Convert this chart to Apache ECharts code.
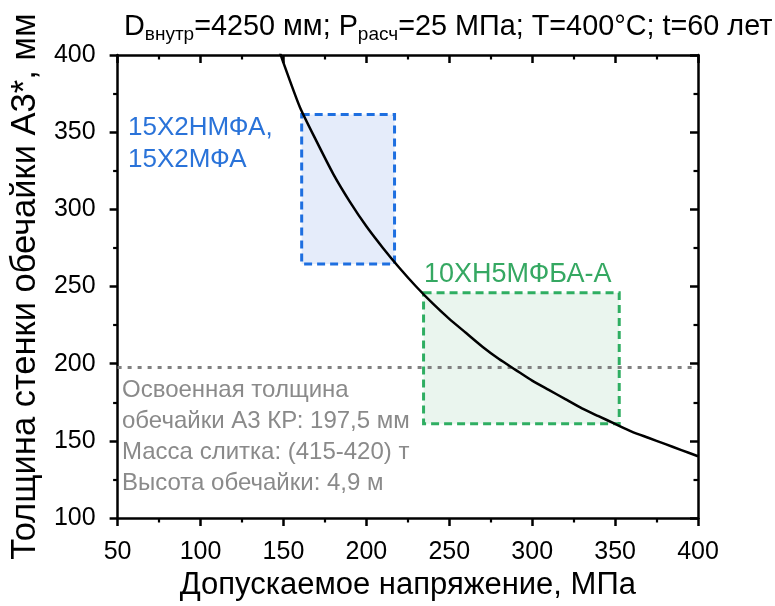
<!DOCTYPE html>
<html><head><meta charset="utf-8">
<script src="https://cdn.jsdelivr.net/npm/echarts@6/dist/echarts.min.js"></script>
<style>html,body{margin:0;padding:0;background:#fff}#c{width:775px;height:606px}</style>
</head><body><div id="c"></div>
<script>
// Curve: wall thickness (mm) vs allowable stress (MPa)
const stress    = [140, 150, 160, 170, 180, 190, 200, 210, 220, 230, 240, 250, 260, 270, 280, 290, 300, 310, 320, 330, 340, 350, 360, 370, 380, 390, 400];
const thickness = [426, 395, 366, 344, 323, 305, 289, 275, 262, 250, 239, 229, 220, 211, 203, 196, 189, 183, 177, 171, 166, 161, 156, 152, 148, 144, 140];
// Material boxes (stress range, thickness range)
const blueStress = [161, 217];
const blueThick  = [264.5, 361.5];
const greenStress = [234.5, 352.5];
const greenThick  = [161, 246];
// Mastered thickness line
const masteredThickness = 197.5;
// Axis ticks
const xTicks = [50, 100, 150, 200, 250, 300, 350, 400];
const yTicks = [100, 150, 200, 250, 300, 350, 400];
const blueLabel = ['15Х2НМФА,', '15Х2МФА'];
const greenLabel = '10ХН5МФБА-А';
const noteLines = ['Освоенная толщина', 'обечайки А3 КР: 197,5 мм', 'Масса слитка: (415-420) т', 'Высота обечайки: 4,9 м'];

const FONT = '"Liberation Sans", Arial, sans-serif';
const chart = echarts.init(document.getElementById('c'), null, {renderer: 'canvas'});

function axis(pos, inside, labels) {
  return {
    type: 'value', position: pos, interval: 50,
    axisLine: {show: true, onZero: false, lineStyle: {color: '#000', width: 2.5}},
    axisTick: {show: true, inside: inside, length: 8, lineStyle: {color: '#000', width: 2.5}},
    minorTick: {show: true, splitNumber: 2, length: 4.5, lineStyle: {color: '#000', width: 2.2}},
    axisLabel: labels ? {show: true, fontFamily: FONT, fontSize: 25, color: '#000', margin: 22} : {show: false},
    splitLine: {show: false}, minorSplitLine: {show: false}
  };
}
const xb = Object.assign(axis('bottom', false, true), {min: xTicks[0], max: xTicks[xTicks.length - 1],
  name: 'Допускаемое напряжение, МПа', nameLocation: 'middle', nameGap: 52,
  nameTextStyle: {fontFamily: FONT, fontSize: 31, color: '#000'}});
const xt = Object.assign(axis('top', true, false), {min: xTicks[0], max: xTicks[xTicks.length - 1]});
const yl = Object.assign(axis('left', false, true), {min: yTicks[0], max: yTicks[yTicks.length - 1],
  name: 'Толщина стенки обечайки А3*, мм', nameLocation: 'middle', nameGap: 73, nameRotate: 90,
  nameTextStyle: {fontFamily: FONT, fontSize: 34.5, color: '#000'}});
const yr = Object.assign(axis('right', true, false), {min: yTicks[0], max: yTicks[yTicks.length - 1]});

const option = {
  animation: false,
  backgroundColor: '#fff',
  textStyle: {fontFamily: FONT},
  title: {
    text: 'D{s|внутр}=4250 мм; P{s|расч}=25 МПа; T=400°C; t=60 лет',
    left: 119, top: 5,
    textStyle: {
      fontFamily: FONT, fontSize: 28.8, fontWeight: 'normal', color: '#000',
      rich: {s: {fontFamily: FONT, fontSize: 19, padding: [15, 0, 0, 0], color: '#000'}}
    }
  },
  grid: {left: 117, right: 77, top: 55, bottom: 82, containLabel: false},
  xAxis: [xb, xt],
  yAxis: [yl, yr],
  series: [{
    type: 'line', xAxisIndex: 0, yAxisIndex: 0, data: [], silent: true,
    markArea: {
      silent: true,
      data: [
        [{coord: [blueStress[0], blueThick[1]], itemStyle: {color: 'rgba(40,100,215,0.12)', borderColor: '#1e6fe0', borderWidth: 3, borderType: [8, 5]}},
         {coord: [blueStress[1], blueThick[0]]}],
        [{coord: [greenStress[0], greenThick[1]], itemStyle: {color: 'rgba(50,160,90,0.10)', borderColor: '#2fae62', borderWidth: 3, borderType: [8, 5]}},
         {coord: [greenStress[1], greenThick[0]]}]
      ]
    },
    markLine: {
      silent: true, symbol: 'none', label: {show: false},
      lineStyle: {color: '#808080', width: 3, type: [4, 6]},
      data: [{yAxis: masteredThickness}]
    }
  }, {
    type: 'line', xAxisIndex: 0, yAxisIndex: 0, showSymbol: false, clip: true, z: 5, smooth: 0.2,
    lineStyle: {color: '#000', width: 2.5},
    data: stress.map((s, i) => [s, thickness[i]])
  }],
  graphic: [
    {type: 'text', left: 128, top: 115, style: {text: blueLabel[0], font: '26px ' + FONT, fill: '#2a73d9'}},
    {type: 'text', left: 128, top: 147, style: {text: blueLabel[1], font: '26px ' + FONT, fill: '#2a73d9'}},
    {type: 'text', left: 424, top: 261, style: {text: greenLabel, font: '27px ' + FONT, fill: '#35a862'}},
    {type: 'text', left: 122, top: 378, style: {text: noteLines[0], font: '24px ' + FONT, fill: '#8a8a8a'}},
    {type: 'text', left: 122, top: 409, style: {text: noteLines[1], font: '24px ' + FONT, fill: '#8a8a8a'}},
    {type: 'text', left: 122, top: 440, style: {text: noteLines[2], font: '24px ' + FONT, fill: '#8a8a8a'}},
    {type: 'text', left: 122, top: 471, style: {text: noteLines[3], font: '24px ' + FONT, fill: '#8a8a8a'}}
  ]
};
chart.setOption(option);
</script></body></html>
